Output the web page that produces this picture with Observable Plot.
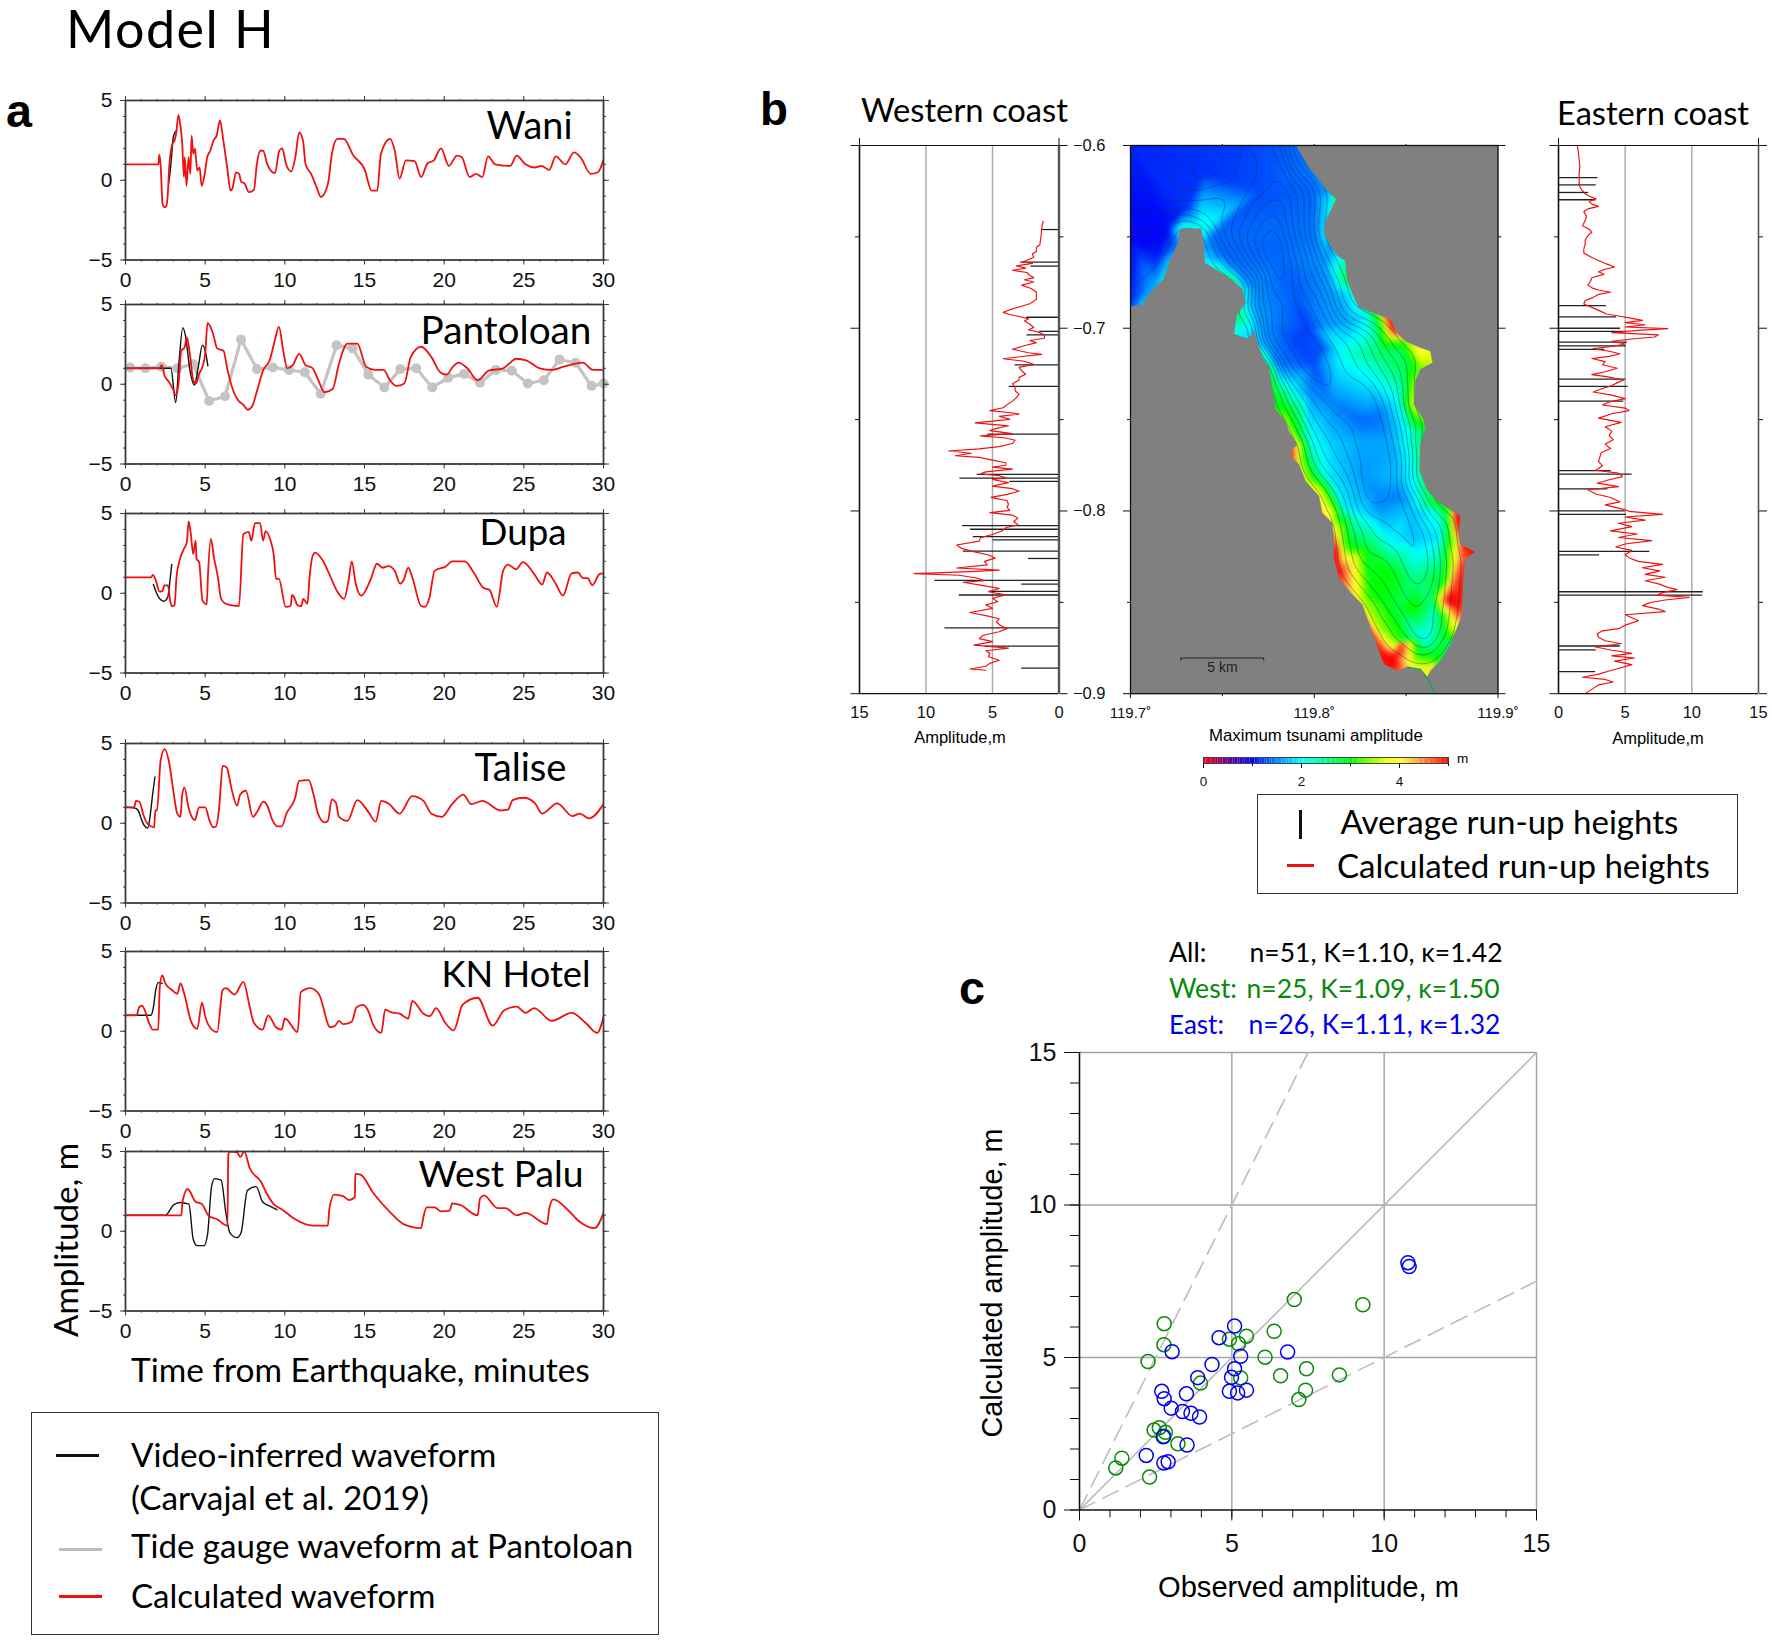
<!DOCTYPE html>
<html><head><meta charset="utf-8">
<script src="https://cdn.jsdelivr.net/npm/d3@7"></script>
<script src="https://cdn.jsdelivr.net/npm/@observablehq/plot@0.6"></script>
<style>
html,body{margin:0;padding:0;background:#fff}
#page{position:relative;width:1772px;height:1640px;overflow:hidden;background:#fff}
#page svg{position:absolute;background:transparent;overflow:visible}
.t{position:absolute;white-space:pre;line-height:1}
.box{position:absolute;border:1.5px solid #333;box-sizing:border-box}
.sw{position:absolute}
</style></head><body><div id="page"></div>
<script>
// ---------- panel a: waveforms [minutes, metres]
const panelNames=["Wani","Pantoloan","Dupa","Talise","KN Hotel","West Palu"];
const waniCalc=[[0,1],[2.07,1],[2.12,1.6],[2.2,1],[2.33,-1.5],[2.46,-1.7],[2.57,-1.6],[2.68,-.45],[2.74,.8],[2.95,2.3],[3.08,2.5],[3.19,3],[3.32,4.1],[3.45,3.4],[3.56,2.3],[3.67,.2],[3.72,1.45],[3.83,-.35],[3.96,1.45],[4.07,.4],[4.15,2.8],[4.25,1.65],[4.36,2],[4.5,.6],[4.65,.8],[4.78,-.35],[4.97,.4],[5.13,1.45],[5.32,1.85],[5.53,2.5],[5.72,2.8],[5.93,3.75],[6.14,2.5],[6.38,.8],[6.6,-.65],[6.7,-.55],[6.94,.5],[7.13,.4],[7.26,-.1],[7.47,-.2],[7.74,-.75],[8.06,-.6],[8.24,1],[8.46,1.85],[8.64,1.85],[8.9,1],[9.38,.45],[9.65,1.85],[9.84,2],[10.08,1],[10.4,.55],[10.66,1.45],[10.9,3],[11.14,2.5],[11.3,1],[11.65,.4],[12,-.45],[12.26,-1.05],[12.7,-.25],[12.97,1.75],[13.3,2.6],[13.7,2.6],[14.3,1.55],[15,.7],[15.45,-.65],[15.8,-.65],[16.03,1.65],[16.6,2.6],[16.9,1.85],[17.2,.1],[17.6,1.25],[18.15,1.2],[18.55,.2],[18.95,1.05],[19.35,1.25],[19.8,2],[20.3,.9],[20.8,1.55],[21.1,1.45],[21.6,.2],[22,.4],[22.4,.2],[22.75,1.5],[23.2,1],[24.15,.9],[24.55,1.55],[25.1,1],[25.7,.8],[26.1,.9],[26.6,.65],[27,1.5],[27.6,1],[28.15,1.75],[28.55,1.45],[29.2,.4],[29.65,.5],[30,1.3]];
const waniVideo=[[2.7,-.2],[2.8,.5],[2.9,1.6],[3,2.7],[3.1,3],[3.2,3.1]];
const pantoCalc=[[0,1],[2.14,1],[2.27,1.2],[2.45,.55],[2.72,.15],[2.98,-.3],[3.17,-.7],[3.33,.05],[3.5,2.1],[3.7,2.3],[3.85,2.95],[4.04,1.9],[4.25,.25],[4.43,.05],[4.62,.65],[4.83,1.1],[5,1.9],[5.15,3.85],[5.5,3.15],[5.75,2.25],[6.15,2.1],[6.4,.9],[6.8,-.5],[7.07,-1],[7.4,-1.3],[7.68,-1.6],[7.94,-1.4],[8.26,-.4],[8.65,.9],[9.05,1.5],[9.37,2.75],[9.63,3.6],[9.9,2.1],[10.15,1],[10.5,1.2],[10.9,1.9],[11.3,1.2],[11.75,1],[12.1,.25],[12.5,-.5],[13,-.3],[13.4,1.3],[13.93,2.55],[14.55,2.55],[15.1,1.1],[15.65,.9],[16.2,.9],[16.6,.25],[17,-.1],[17.5,.05],[17.9,1.7],[18.55,2.35],[19.2,1.7],[19.75,.75],[20.15,.6],[20.55,1.1],[20.9,1.35],[21.45,1],[22.1,.25],[22.8,.85],[23.7,1],[24.2,1.4],[24.5,1.6],[25.15,1.5],[26,1],[26.75,.9],[27.5,1.1],[28.7,1.35],[29.35,.9],[30,.9]];
const pantoVideo=[[0,1],[2.85,1],[3.15,-1.15],[3.35,1.3],[3.6,3.55],[3.78,2.95],[4.04,.9],[4.33,-.05],[4.57,1.1],[4.83,2.45],[5,2.1],[5.17,1.15]];
const pantoGauge=[[.3,1.05],[1.25,1],[2.25,1.1],[3.25,1],[4.25,1.25],[5.25,-1.05],[6.25,-.75],[7.25,2.8],[8.25,.95],[9.25,1.05],[10.25,.9],[11.25,.75],[12.25,-.6],[13.25,2.45],[14.25,2.25],[15.25,.6],[16.25,-.2],[17.25,.95],[18.25,1],[19.25,-.2],[20.25,.4],[21.25,.65],[22.25,.1],[23.25,.9],[24.25,.85],[25.25,.05],[26.25,.25],[27.25,1.55],[28.25,1.35],[29.25,-.1],[30,.05]];
const dupaCalc=[[0,1],[1.6,1],[1.72,1.15],[1.87,.9],[2.14,.1],[2.32,.15],[2.45,.5],[2.66,.5],[2.8,-.45],[2.9,-.8],[3.08,-.75],[3.2,1],[3.38,2],[3.65,2.75],[3.85,3.2],[3.96,4.5],[4.1,3.7],[4.25,2.45],[4.4,3.3],[4.46,2.15],[4.62,1.95],[4.83,-.45],[5.1,-.7],[5.17,1],[5.36,3.4],[5.55,2.25],[5.8,1],[6,-.35],[6.4,-.7],[7.12,-.8],[7.4,3.7],[7.73,3.85],[7.9,3.3],[8.13,4.4],[8.45,4.4],[8.63,3.3],[8.8,3.9],[9.1,3.3],[9.3,2.45],[9.45,.9],[9.63,.9],[10.05,-.85],[10.37,-.8],[10.45,-.1],[10.58,-.25],[10.8,-.75],[11.05,-.8],[11.15,-.35],[11.42,-.65],[11.55,1],[11.75,2.35],[11.9,2.55],[12.35,2.1],[12.75,1.3],[13.27,.15],[13.72,-.35],[14,.8],[14.2,2],[14.45,.6],[14.8,-.15],[15.4,.9],[15.78,1.85],[16.13,1.6],[16.5,1.7],[16.9,1.4],[17.23,.6],[17.44,.8],[17.75,1.6],[18,1],[18.55,-.8],[18.8,-.85],[19.08,-.25],[19.4,1.4],[20.13,1.7],[20.5,2],[21.3,2],[21.85,1.3],[22.45,.35],[22.85,.2],[23.3,-.85],[23.7,1.4],[24,1.8],[24.5,1.5],[24.95,1.95],[25.65,1.2],[26.15,.55],[26.45,1.3],[27,.6],[27.45,-.15],[28,1.25],[28.4,1.3],[28.7,.95],[29,.95],[29.3,.5],[29.75,1.2],[30,1.25]];
const dupaVideo=[[1.75,.55],[2.05,-.2],[2.4,-.5],[2.65,-.25],[2.78,.7],[2.9,1.8]];
const taliseCalc=[[0,1],[.55,1],[.65,1.4],[.87,1.35],[1.13,.5],[1.4,-.05],[1.8,-.25],[1.87,.8],[1.98,.8],[2.2,3.9],[2.45,4.65],[2.72,3.9],[3,2.05],[3.25,.6],[3.45,.4],[3.55,1.7],[3.7,2.25],[3.95,1],[4.35,.2],[4.62,1],[5,1],[5.28,.15],[5.5,-.25],[5.68,-.2],[5.88,1],[6.1,3.6],[6.35,3.5],[6.68,2.05],[7,1.1],[7.2,1.8],[7.55,2.05],[8,.4],[8.25,.7],[8.65,1.35],[8.9,1.1],[9.2,.25],[9.55,-.2],[9.8,-.2],[10.1,.6],[10.65,1.6],[10.9,2.65],[11.5,2.7],[11.8,1.8],[12.08,.6],[12.5,.05],[12.7,.15],[12.95,1.5],[13.2,1.3],[13.4,.4],[13.93,.15],[14.55,1.45],[15.25,.7],[15.7,.1],[16.05,1.4],[16.55,1.2],[17.2,.6],[18,1.7],[18.7,1.4],[19.2,.6],[19.85,.4],[20.5,1.2],[21.2,1.8],[21.7,1.2],[22.4,1.4],[23.55,.8],[24,.85],[24.3,1.45],[25,1.6],[25.7,1.25],[26.15,.6],[27.1,1.25],[28.05,.45],[28.5,.6],[29.1,.3],[30,1.2]];
const taliseVideo=[[0,1],[.6,.95],[.8,.8],[1,.25],[1.15,-.1],[1.4,-.3],[1.55,.5],[1.7,1.8],[1.85,2.9]];
const knCalc=[[0,1],[.7,1],[.85,1.5],[1.03,1.6],[1.53,.4],[1.7,.1],[2.05,.1],[2.15,2.75],[2.3,3.5],[2.5,3],[2.9,2.6],[3.25,2.35],[3.45,3],[3.7,2.3],[4.1,.65],[4.5,.15],[4.8,1.8],[5,.95],[5.2,.4],[5.75,-.05],[6.1,2.6],[6.3,2.7],[6.85,2.3],[7.4,3.1],[7.8,1.5],[8.05,.55],[8.6,.1],[8.95,1],[9.45,.25],[9.8,.1],[10,.8],[10.8,-.05],[11,2.45],[11.6,2.7],[12.15,2.3],[12.85,.25],[13.15,.35],[13.4,.65],[13.65,.45],[14.2,.6],[14.5,1.5],[14.9,1.65],[15.2,1.35],[15.55,.4],[16.05,-.1],[16.3,1.35],[16.65,1.2],[17.2,1.1],[17.75,.8],[18,1.9],[18.7,1.1],[19.1,.95],[19.5,1.45],[20.05,.55],[20.6,.05],[21.15,1.65],[22.1,2.1],[23.05,.35],[23.75,1.3],[24.55,1.55],[25.1,1.15],[25.65,1.45],[26.75,.65],[28,1.15],[28.9,.5],[29.6,-.1],[30,.9]];
const knVideo=[[0,1],[1.6,1],[1.75,1.5],[1.9,2.6],[2.05,3.05],[2.3,3]];
const palmCalc=[[0,1],[3.5,1],[3.58,1.85],[3.9,2.65],[4.4,1.85],[4.8,1.7],[5.2,1],[5.75,.75],[6.4,.35],[6.45,4.8],[6.55,5],[7,4.95],[7.2,4.65],[7.45,5],[7.8,3.95],[8.5,3.1],[8.9,2.3],[9.3,1.7],[9.85,1.35],[10.65,.75],[11.75,.35],[12.7,.35],[12.8,1.45],[13.1,2.3],[13.65,2.2],[14.05,1.95],[14.4,2.15],[14.42,3.6],[14.75,3.55],[15.55,2.4],[16.65,1.15],[17.45,.45],[18.55,.2],[18.7,.9],[18.9,1.5],[19.4,1.5],[19.8,1.25],[20.35,1.3],[20.5,1.75],[21,1.65],[22.1,1],[22.25,2.05],[22.5,2.25],[23.35,1.45],[23.85,1.45],[24.55,1],[25.1,1.15],[26.45,.45],[26.6,1.45],[26.85,2],[27.8,1.3],[28.5,.6],[29.45,.2],[30,1.15]];
const palmVideo=[[0,1],[2.5,1],[3.02,1.65],[3.43,1.8],[3.98,1.7],[4.25,-.5],[4.5,-.9],[4.93,-.9],[5.15,-.2],[5.4,2.8],[5.6,3.3],[6,3.2],[6.3,1.15],[6.55,-.1],[7,-.4],[7.25,-.1],[7.65,2.55],[8.2,2.8],[8.6,1.85],[9,1.6],[9.5,1.35]];

// ---------- panel b: run-up along the coasts [latitude, metres]
const westObserved=[[-.646,1.25],[-.6638,2.88],[-.666,2.1],[-.694,2.43],[-.7017,1.45],[-.7036,2.4],[-.72,3.3],[-.7318,3.75],[-.758,5.35],[-.78,6.15],[-.782,7.45],[-.7838,3.7],[-.808,7.25],[-.81,6.65],[-.814,6.45],[-.8158,4.95],[-.822,7.2],[-.826,2.3],[-.838,9.33],[-.84,2.8],[-.844,5.2],[-.846,7.5],[-.864,8.58],[-.874,5.57],[-.886,2.8]];
const westCalc=[[-.6415,1.2],[-.6451,1.3],[-.6498,1.35],[-.6545,1.45],[-.6557,1.7],[-.6581,1.7],[-.6593,2],[-.6612,1.9],[-.6621,2.2],[-.6636,2.7],[-.6645,2],[-.6659,3.2],[-.6671,2.5],[-.6683,3.5],[-.6695,2.4],[-.6711,2.2],[-.6723,1.9],[-.6735,2.6],[-.6747,1.9],[-.6764,2.8],[-.6783,2.1],[-.6802,1.7],[-.6818,1.7],[-.6842,1.7],[-.6866,2.2],[-.6877,2.7],[-.6894,3.5],[-.6913,4.2],[-.6925,3.7],[-.6937,2.9],[-.6949,2.3],[-.696,2.6],[-.6977,2.2],[-.6996,1.9],[-.7008,2.3],[-.702,1.6],[-.7036,1.1],[-.7055,1.1],[-.7067,2.2],[-.7079,1.7],[-.7096,2.6],[-.7115,3.5],[-.7134,2.3],[-.7143,1.3],[-.7155,2.8],[-.7167,4.2],[-.7181,2.6],[-.7198,1.9],[-.7214,3],[-.7233,2.8],[-.7252,2.5],[-.7269,3],[-.7285,3],[-.7304,3.5],[-.7323,3.3],[-.7342,3.3],[-.7361,3],[-.738,3.2],[-.7399,3.5],[-.7418,3.9],[-.7435,4.2],[-.7451,5.2],[-.7461,3.8],[-.747,3],[-.7482,4.5],[-.7499,3.7],[-.7518,6.3],[-.7534,3.8],[-.7548,4.7],[-.756,5.2],[-.7577,3.5],[-.7589,5.9],[-.7601,4],[-.7613,3.3],[-.7631,3.5],[-.7648,4.5],[-.766,6],[-.7672,8.3],[-.7684,6.6],[-.7698,7.8],[-.7707,6],[-.7722,5],[-.7736,4],[-.775,4],[-.776,5],[-.7771,3.5],[-.7786,5.5],[-.7797,5.9],[-.7807,4.5],[-.7819,4],[-.7828,5],[-.7845,3.8],[-.7864,5],[-.7878,3.5],[-.7892,3],[-.7909,3.9],[-.7926,5.1],[-.7944,3.9],[-.7963,3.8],[-.798,3.9],[-.7997,3.7],[-.8009,5.2],[-.8023,3.5],[-.8039,3.1],[-.8058,3.4],[-.8075,3.1],[-.8092,4],[-.811,4.3],[-.8129,5],[-.8146,5.9],[-.8165,6],[-.8186,7.7],[-.8205,7.3],[-.822,6.6],[-.8241,5.3],[-.8258,4.8],[-.8276,5.6],[-.8295,5.4],[-.8312,7.7],[-.8324,4.5],[-.8331,6.2],[-.8343,10.9],[-.8352,7.5],[-.8367,6.2],[-.8381,5.6],[-.839,7.2],[-.8407,5.8],[-.8424,4.5],[-.8442,5.3],[-.8459,4],[-.8478,5],[-.8497,4.6],[-.8514,5.5],[-.8533,5],[-.8556,6.7],[-.8573,5.5],[-.859,4.5],[-.8608,4.7],[-.8627,4.4],[-.8644,3.9],[-.8661,4.5],[-.868,5.7],[-.8699,6],[-.8715,5],[-.8734,6.4],[-.8751,3.8],[-.8765,5.5],[-.8779,5.2],[-.8798,5.3],[-.8817,4.5],[-.8834,5.2],[-.885,5.5],[-.8865,6.7],[-.8872,5.5]];
const eastObserved=[[-.6176,2.96],[-.6216,2.83],[-.6257,2.26],[-.6297,2.83],[-.6876,3.59],[-.6938,4.35],[-.7,4.65],[-.7017,5.05],[-.7076,5.17],[-.7097,5.09],[-.7116,3.46],[-.7278,5.05],[-.7318,5.22],[-.7399,4.9],[-.7779,3.96],[-.7798,5.52],[-.7879,3.71],[-.8,5],[-.8019,5.1],[-.8221,6.85],[-.824,3.08],[-.8442,10.86],[-.8461,10.81],[-.8739,4.64],[-.876,2.83],[-.8879,2.78]];
const eastCalc=[[-.6,1.4],[-.6019,1.45],[-.6043,1.5],[-.6078,1.55],[-.6114,1.6],[-.615,1.55],[-.6185,1.55],[-.6216,1.55],[-.624,1.7],[-.6264,2],[-.628,2.4],[-.6292,2.8],[-.6306,2.3],[-.6321,2.5],[-.6333,3],[-.6347,2.2],[-.6363,1.9],[-.6387,2.1],[-.6411,2],[-.6439,1.8],[-.6458,2.3],[-.6475,2.5],[-.6494,2.2],[-.6518,2],[-.6542,2],[-.6565,1.9],[-.6589,1.9],[-.6613,2.5],[-.6629,3],[-.6648,3.6],[-.6665,4.2],[-.6677,3.5],[-.6691,3],[-.6705,3.4],[-.6724,2.5],[-.6743,2.4],[-.6762,2.2],[-.6779,2.5],[-.6791,3],[-.6803,3.9],[-.6815,3],[-.6834,2.5],[-.685,2],[-.6867,1.9],[-.6886,2.5],[-.6905,3.1],[-.6922,3.6],[-.6933,4.5],[-.6945,5.4],[-.6957,6.3],[-.6969,5],[-.6981,6.5],[-.6993,5],[-.7002,8.2],[-.7012,6],[-.7024,4],[-.7036,7.5],[-.7048,7.2],[-.7059,5.5],[-.7071,4],[-.7086,5],[-.71,4],[-.7112,2.6],[-.7126,3.8],[-.714,4.6],[-.7154,3.8],[-.7166,2.5],[-.7183,3.5],[-.72,3.3],[-.7219,4.4],[-.7238,3.5],[-.7254,2.5],[-.7266,3.7],[-.7283,4.9],[-.7295,4.5],[-.7314,4],[-.733,3.3],[-.7349,2.6],[-.7366,4],[-.7385,5],[-.7404,3.8],[-.742,3.3],[-.7437,5],[-.7451,5.3],[-.7468,4],[-.7492,3],[-.7515,4.7],[-.7539,3.5],[-.7563,4],[-.7587,3.8],[-.761,4.1],[-.7634,3.5],[-.7658,3.9],[-.7682,3.2],[-.7705,3.1],[-.7729,3],[-.7753,3.3],[-.7777,2.8],[-.7793,4.5],[-.7812,4.8],[-.7829,3.8],[-.7848,2.9],[-.7867,4.5],[-.7884,2.2],[-.7907,2.8],[-.7926,3.9],[-.795,4.6],[-.7967,3.5],[-.799,4.8],[-.8002,5.3],[-.8019,7.8],[-.8033,5],[-.805,6.5],[-.8067,4.5],[-.8086,5.5],[-.8109,3.9],[-.8126,5.9],[-.8145,4.5],[-.8162,7],[-.8181,5],[-.8197,4.3],[-.8216,5.5],[-.824,5],[-.8257,5.3],[-.8276,6],[-.8292,7.8],[-.8311,6.3],[-.8328,7.6],[-.8347,6.5],[-.8363,8],[-.8382,6.5],[-.8399,7.5],[-.8418,8.2],[-.843,8.9],[-.8447,7.8],[-.8461,7.4],[-.8473,9.8],[-.8487,8],[-.8501,6.9],[-.8518,6.3],[-.8537,7.5],[-.8551,8],[-.8568,5],[-.8584,5.5],[-.8601,6],[-.8625,5],[-.8644,4.5],[-.8656,3.3],[-.8672,2.9],[-.8691,3],[-.871,3.5],[-.8727,4.7],[-.8743,2.7],[-.8762,4],[-.8779,5.5],[-.8793,4],[-.8805,5.7],[-.8822,4.2],[-.8841,5.5],[-.8862,4.5],[-.8876,3.8],[-.8893,3],[-.891,1.8],[-.8922,3.5],[-.8936,4.1],[-.8952,3],[-.8971,2.6],[-.8986,2.3],[-.9,2]];

// ---------- panel b: map. Coasts [lon, lat]; samples [lon, lat, value]
const eastCoast=[[119.7902,-.6],[119.7934,-.6057],[119.7971,-.6121],[119.8016,-.6175],[119.807,-.6248],[119.8121,-.6294],[119.8089,-.6358],[119.8061,-.6412],[119.8056,-.6485],[119.8089,-.6549],[119.8125,-.66],[119.817,-.6631],[119.8179,-.6732],[119.8206,-.6805],[119.8243,-.6887],[119.8342,-.6924],[119.8415,-.6951],[119.8451,-.7024],[119.8496,-.707],[119.8578,-.7106],[119.8632,-.7125],[119.8645,-.7189],[119.8578,-.7225],[119.8551,-.7289],[119.8542,-.7417],[119.8596,-.7499],[119.8605,-.7544],[119.8578,-.7636],[119.8574,-.7781],[119.8614,-.7882],[119.8669,-.7946],[119.875,-.8],[119.8796,-.8028],[119.8787,-.8128],[119.8796,-.8183],[119.8877,-.8223],[119.8823,-.8265],[119.881,-.8383],[119.8805,-.8566],[119.8778,-.8639],[119.8741,-.873],[119.8687,-.8821],[119.8632,-.8876],[119.8614,-.8912],[119.866,-.9],[119.9,-.9],[119.9,-.6]];
const westCoast=[[119.866,-.9],[119.8614,-.8912],[119.8578,-.8867],[119.8505,-.8858],[119.845,-.8876],[119.8378,-.8839],[119.8351,-.8766],[119.8306,-.8639],[119.826,-.8511],[119.8197,-.8447],[119.8133,-.8365],[119.8106,-.8256],[119.8106,-.8146],[119.8097,-.8064],[119.8043,-.801],[119.8025,-.7918],[119.7952,-.7836],[119.7916,-.7745],[119.788,-.7709],[119.7871,-.7672],[119.7907,-.7636],[119.7861,-.7563],[119.7843,-.7508],[119.7789,-.7444],[119.7771,-.7325],[119.7753,-.7216],[119.7717,-.7159],[119.7671,-.7018],[119.7639,-.7058],[119.7562,-.7031],[119.7577,-.693],[119.7626,-.6858],[119.7608,-.6785],[119.7544,-.673],[119.7472,-.6684],[119.7403,-.6642],[119.7399,-.6547],[119.7385,-.6456],[119.7272,-.6456],[119.7254,-.6547],[119.7218,-.662],[119.7181,-.673],[119.7109,-.6803],[119.7063,-.6872],[119.7005,-.688],[119.7,-.688],[119.7,-.9]];
const river=[[119.8505,-.8855],[119.8578,-.8867],[119.8614,-.8912],[119.866,-.9]];
const ampSamples=[[119.7,-.6,1.1],[119.7,-.65,.95],[119.715,-.66,1.05],[119.7,-.685,1.1],[119.712,-.678,1.6],[119.7063,-.6872,1.8],[119.7181,-.673,1.9],[119.7218,-.662,1.7],[119.7254,-.6547,1.4],[119.7272,-.6456,2.1],[119.7385,-.6456,2.2],[119.7399,-.6547,1.6],[119.7403,-.6642,2],[119.7472,-.6684,2.3],[119.7544,-.673,2.7],[119.7608,-.6785,2],[119.7626,-.6858,1.9],[119.7577,-.693,2.6],[119.7562,-.7031,2],[119.7639,-.7058,1.9],[119.7671,-.7018,1.8],[119.7717,-.7159,2.4],[119.7753,-.7216,2.8],
[119.73,-.635,1.15],[119.72,-.645,1],[119.745,-.65,1.35],[119.75,-.66,1.35],[119.758,-.668,1.4],[119.768,-.68,1.5],[119.77,-.695,1.55],[119.775,-.71,1.5],[119.78,-.72,1.45],
[119.76,-.6,1.2],[119.785,-.6,1.3],[119.74,-.615,1.15],[119.77,-.625,1.25],[119.785,-.64,1.35],[119.78,-.66,1.35],[119.79,-.68,1.3],[119.797,-.7,1.2],[119.805,-.71,1.3],
[119.7902,-.6,1.35],[119.7971,-.6121,1.4],[119.807,-.6248,1.55],[119.8121,-.6294,2.6],[119.8089,-.6358,2],[119.8056,-.6485,1.9],[119.8089,-.6549,1.5],[119.8125,-.66,1.9],[119.817,-.6631,2.3],[119.8179,-.6732,2.7],[119.8206,-.6805,2],[119.8243,-.6887,2.1],
[119.8,-.625,1.35],[119.8,-.645,1.4],[119.805,-.665,1.5],[119.81,-.68,1.55],
[119.8161,-.7143,2.1],[119.8306,-.7271,2],[119.836,-.7125,2.6],[119.8397,-.7061,3.3],[119.8088,-.7052,1.9],[119.7997,-.7198,1.25],[119.7907,-.707,1.2],[119.8052,-.6979,1.5],[119.8179,-.696,1.6],[119.827,-.6924,1.9],
[119.8342,-.6924,2.9],[119.8415,-.6979,5],[119.8442,-.7015,5],[119.8496,-.707,3.3],[119.8578,-.7106,4.2],[119.8632,-.7125,3.8],[119.8645,-.7189,3.6],[119.8578,-.7225,3.3],[119.8524,-.7262,3.1],[119.8542,-.7417,3.7],[119.8596,-.7499,3.3],[119.8605,-.7544,2.9],[119.8578,-.7636,2.5],[119.8574,-.7781,2.4],[119.8614,-.7882,2.6],[119.8669,-.7946,3],[119.8741,-.7991,3.2],[119.8778,-.8018,5],
[119.8469,-.7125,2.6],[119.8487,-.7252,2.6],[119.8451,-.7398,2],[119.836,-.7471,1.4],[119.8269,-.7508,1.35],[119.8088,-.7398,1.45],[119.7979,-.7362,1.5],[119.787,-.7325,2],[119.7816,-.7362,2.7],
[119.8524,-.7581,2.1],[119.8415,-.7617,1.6],[119.8269,-.7617,1.6],[119.8088,-.7635,1.8],[119.7979,-.7617,2.1],[119.7907,-.7581,3],
[119.7789,-.7444,3],[119.7843,-.7508,3.4],[119.7871,-.7672,5],[119.7916,-.7745,3.8],[119.7952,-.7836,3.7],[119.8025,-.7891,3.8],[119.8088,-.8019,4],
[119.7997,-.7727,2.3],[119.8088,-.7818,1.9],[119.8269,-.78,1.55],[119.8451,-.78,1.7],[119.8524,-.7763,2],[119.856,-.7873,2.1],[119.8179,-.7992,1.9],[119.8342,-.7982,1.5],[119.8524,-.7982,1.7],[119.8669,-.8019,2.1],[119.8723,-.8019,2.8],
[119.8324,-.7891,1.5],[119.8469,-.7927,1.45],[119.8233,-.8018,2],[119.8124,-.8037,3],[119.8106,-.811,4],[119.8115,-.8201,5],[119.8133,-.8329,5],[119.817,-.842,4.5],[119.826,-.8511,3.6],
[119.8179,-.8201,3.1],[119.8288,-.8201,2.8],[119.8415,-.8164,2],[119.8542,-.8146,1.7],[119.8669,-.8146,1.9],[119.874,-.8155,3],[119.8776,-.8164,3.9],[119.8796,-.8256,4.5],[119.8877,-.8223,5],[119.8814,-.8183,5],[119.8776,-.8055,5],[119.8768,-.8018,5],
[119.8415,-.8347,3],[119.8542,-.8383,2.5],[119.8542,-.8529,3.1],[119.8632,-.8456,2.5],[119.8705,-.8383,2.9],[119.8741,-.8456,5],[119.8778,-.8529,5],[119.8759,-.8383,4.6],[119.8723,-.8493,5],[119.8687,-.8529,3.6],[119.8651,-.8548,2.3],
[119.8451,-.8548,2.8],[119.8306,-.8438,3],[119.836,-.8639,3.4],[119.8451,-.8712,3.2],[119.8596,-.8694,2],[119.8705,-.8694,2.8],[119.8778,-.8602,4.2],
[119.8469,-.873,5],[119.8442,-.8794,5],[119.8378,-.8785,5],[119.8433,-.8858,5],[119.8542,-.8821,3.5],[119.8669,-.8803,3],[119.8578,-.8858,3.7],[119.8632,-.8876,4.4],
[119.9,-.6,1],[119.9,-.9,1],[119.7,-.9,1],[119.866,-.9,3]];
const depthSamples=[[119.7,-.6,30],[119.725,-.6,40],[119.7408,-.6095,66],[119.738,-.6,50],[119.76,-.6,45],[119.7779,-.6,50],
[119.7,-.62,38],[119.7289,-.6233,50],[119.7598,-.6233,40],[119.7834,-.6233,60],[119.7985,-.6233,30],
[119.7,-.645,22],[119.715,-.645,24],[119.735,-.638,28],[119.75,-.6463,40],[119.778,-.6463,82],[119.79,-.6463,50],[119.798,-.6463,28],
[119.7,-.665,14],[119.712,-.665,8],[119.755,-.6652,25],[119.778,-.655,95],[119.7798,-.6652,90],[119.7998,-.6652,40],[119.81,-.6652,10],
[119.765,-.6862,40],[119.771,-.6862,55],[119.787,-.6862,75],[119.8034,-.6862,55],[119.815,-.6862,15],
[119.7743,-.705,62],[119.7907,-.705,78],[119.8107,-.705,60],[119.8252,-.705,45],[119.8397,-.705,15],
[119.7852,-.7218,60],[119.7998,-.7218,80],[119.8179,-.7218,60],[119.8343,-.7218,40],[119.847,-.7218,22],
[119.7925,-.7385,45],[119.8107,-.7385,70],[119.8288,-.7385,72],[119.8434,-.7385,40],
[119.7998,-.7553,42],[119.8179,-.7553,60],[119.8343,-.7553,72],[119.847,-.7553,40],
[119.8034,-.7721,35],[119.8197,-.7721,55],[119.832,-.7721,70],[119.8379,-.7721,72],[119.8506,-.7721,40],
[119.8161,-.7909,30],[119.8297,-.7909,70],[119.8434,-.7909,62],[119.8561,-.7909,30],
[119.8197,-.8098,28],[119.8343,-.8098,50],[119.8524,-.8098,60],[119.867,-.8098,28],
[119.8234,-.8287,28],[119.8297,-.821,42],[119.8397,-.8287,36],[119.8579,-.8287,58],[119.8706,-.8287,26],
[119.8379,-.8496,24],[119.8543,-.8496,42],[119.867,-.8496,30],
[119.8452,-.8664,18],[119.8596,-.8703,38],[119.8688,-.8664,25],[119.8579,-.879,15]];
const depthLevels=[6,14,22,30,38,46,54,62,70,78,86,94];
const scaleBar=[[119.7274,-.8815],[119.7274,-.8805],[119.7725,-.8805],[119.7725,-.8815]];
const ampStops=[0,.5,1,1.5,2,3,3.7,4,4.5,5];
const ampColors=["#ff0000","#6000a0","#0008f8","#0090ff","#00ffff","#00ff00","#f0ff00","#ffff40","#ff8040","#ff0000"];

// ---------- panel c: observed vs calculated
const westPairs=[[7.05,6.9],[9.3,6.73],[2.78,6.11],[2.77,5.42],[2.25,4.87],[4.92,5.6],[5.22,5.45],[5.48,5.7],[6.39,5.86],[6.09,5.01],[6.6,4.4],[7.45,4.63],[8.53,4.43],[7.42,3.93],[7.2,3.62],[5.29,4.33],[3.97,4.16],[2.45,2.62],[2.62,2.7],[2.82,2.55],[3.23,2.17],[1.39,1.7],[1.19,1.38],[2.3,1.08],[2.77,2.42]];
const eastPairs=[[10.78,8.11],[10.82,7.98],[5.09,6.03],[4.58,5.65],[3.04,5.19],[5.29,5.04],[6.83,5.18],[4.35,4.77],[5.09,4.63],[4.99,4.35],[3.88,4.34],[3.51,3.81],[2.7,3.89],[2.78,3.65],[3.01,3.34],[3.38,3.23],[3.66,3.17],[3.94,3.05],[4.92,3.89],[5.19,3.84],[5.48,3.93],[2.75,2.4],[3.53,2.13],[2.19,1.79],[2.77,1.54],[2.91,1.58]];
const ratioSolid=[[0,0],[15,15]];
const ratioUpper=[[0,0],[7.5,15]];
const ratioLower=[[0,0],[15,7.5]];
const statsAll=["All:","n=51, K=1.10, κ=1.42"];
const statsWest=["West:","n=25, K=1.09, κ=1.50"];
const statsEast=["East:","n=26, K=1.11, κ=1.32"];

// ---------- helpers
const page=document.getElementById("page");
const ctx=document.createElement("canvas").getContext("2d");
const LATO='Lato, "Open Sans", sans-serif', HELV='"Liberation Sans", Arial, sans-serif';
function fit(str,family,target,weight=""){ctx.font=`${weight} 100px ${family}`;return 100*target/ctx.measureText(str).width;}
function label(str,x,yc,{w,size,font=LATO,color="#000",weight="",rotate=false,anchor="start",lh=1,spacing=0}={}){
  const s=size||fit(str,font,w,weight);
  const d=document.createElement("div");d.className="t";d.textContent=str;
  d.style.cssText+=`left:${x}px;top:${yc}px;font-family:${font};font-size:${s}px;color:${color};font-weight:${weight||"normal"};line-height:${lh};letter-spacing:${spacing}px;`;
  d.style.transform=rotate?"translate(-50%,-50%) rotate(-90deg)":(anchor==="middle"?"translate(-50%,-50%)":"translateY(-50%)");
  page.appendChild(d);
}
function swatch(x1,x2,y1,y2,color){const d=document.createElement("div");d.className="sw";
  d.style.cssText=`left:${x1}px;top:${y1}px;width:${x2-x1}px;height:${y2-y1}px;background:${color}`;page.appendChild(d);}
function box(x1,y1,x2,y2){const d=document.createElement("div");d.className="box";
  d.style.cssText+=`left:${x1}px;top:${y1}px;width:${x2-x1}px;height:${y2-y1}px`;page.appendChild(d);}
function mount(frame,m,opts){
  const svg=Plot.plot({width:frame.x2-frame.x1+m.l+m.r,height:frame.y2-frame.y1+m.t+m.b,
    marginLeft:m.l,marginRight:m.r,marginTop:m.t,marginBottom:m.b,...opts});
  svg.style.left=(frame.x1-m.l)+"px";svg.style.top=(frame.y1-m.t)+"px";page.appendChild(svg);return svg;
}
const X=d=>d[0],Y=d=>d[1];

// ---------- panel a
const INK="#3c3c3c";
function wavePanel(name,frameY,nameW,nameRight,nameY,calc,video,gauge){
  const frame={x1:124.5,x2:602.5,y1:frameY,y2:frameY+159.5};
  const nameSize=fit(name,LATO,nameW);
  const fullT=d3.range(0,31),majT=d3.range(0,31,5),fullV=d3.range(-5,6),majV=[-5,0,5];
  mount(frame,{l:50,r:25,t:10,b:35},{
    x:{domain:[0,30]},y:{domain:[-5,5]},
    style:{fontFamily:HELV,fontSize:"21px",color:"#111"},
    marks:[
      ...(gauge?[Plot.line(gauge,{x:X,y:Y,stroke:"#c4c4c4",strokeWidth:3.2}),Plot.dot(gauge,{x:X,y:Y,r:5,fill:"#c4c4c4"})]:[]),
      Plot.line(video,{x:X,y:Y,stroke:"#111",strokeWidth:1.4,curve:"monotone-x"}),
      Plot.line(calc,{x:X,y:Y,stroke:"#f01010",strokeWidth:1.8,curve:"monotone-x",clip:"frame"}),
      Plot.frame({stroke:INK,strokeWidth:1.8}),
      Plot.axisX({anchor:"top",ticks:fullT,tickSize:2,tickFormat:()=>"",label:null,stroke:INK}),
      Plot.axisX({anchor:"top",ticks:majT,tickSize:5,tickFormat:()=>"",label:null,stroke:INK}),
      Plot.axisX({anchor:"bottom",ticks:fullT,tickSize:2,tickFormat:()=>"",label:null,stroke:INK}),
      Plot.axisX({anchor:"bottom",ticks:majT,tickSize:5,tickPadding:7,tickFormat:"d",label:null,stroke:INK}),
      Plot.axisY({anchor:"left",ticks:fullV,tickSize:2,tickFormat:()=>"",label:null,stroke:INK}),
      Plot.axisY({anchor:"left",ticks:majV,tickSize:5,tickPadding:8,tickFormat:"d",label:null,stroke:INK}),
      Plot.axisY({anchor:"right",ticks:fullV,tickSize:2,tickFormat:()=>"",label:null,stroke:INK}),
      Plot.axisY({anchor:"right",ticks:majV,tickSize:5,tickFormat:()=>"",label:null,stroke:INK}),
      Plot.text([name],{text:d=>d,frameAnchor:"top-right",dx:-nameRight,dy:nameY,textAnchor:"end",lineAnchor:"middle",fontFamily:LATO,fontSize:nameSize,fill:"#000"})
    ]});
}
wavePanel(panelNames[0],99.5,86,31,26,waniCalc,waniVideo);
wavePanel(panelNames[1],304,171,12,27,pantoCalc,pantoVideo,pantoGauge);
wavePanel(panelNames[2],513,87,37,20,dupaCalc,dupaVideo);
wavePanel(panelNames[3],742.5,92,37,25.5,taliseCalc,taliseVideo);
wavePanel(panelNames[4],951,149,13,23.5,knCalc,knVideo);
wavePanel(panelNames[5],1150.5,165,20,23.5,palmCalc,palmVideo);

label("Model H",66,28,{size:52,spacing:1.5,lh:.9});
label("a",6,111,{w:26,font:HELV,weight:"bold"});
label("b",760,110,{w:28,font:HELV,weight:"bold"});
label("c",959,988,{w:26,font:HELV,weight:"bold"});
label("Amplitude, m",66,1240,{w:194,rotate:true});
label("Time from Earthquake, minutes",131,1370,{w:459});

box(31,1412,659,1635);
swatch(55.5,98.5,1454,1457,"#111");
swatch(58.5,101.5,1548,1550.5,"#bdbdbd");
swatch(58.5,101.5,1595,1597.5,"#f01010");
label("Video-inferred waveform",131,1455,{w:366});
label("(Carvajal et al. 2019)",131,1498,{w:298});
label("Tide gauge waveform at Pantoloan",131,1546,{w:503});
label("Calculated waveform",131,1595,{w:305});

// ---------- panel b: coast profiles
const latMajor=[-.6,-.7,-.8,-.9],latMinor=[-.65,-.75,-.85];
const latFmt=d=>"−"+(-d).toFixed(1);
function coastPanel(frame,dom,obs,calc,m,labelSide){
  const eastward=dom[0]===0;
  mount(frame,m,{
    x:{domain:dom},y:{domain:[-.9,-.6]},
    style:{fontFamily:HELV,fontSize:"16.5px",color:"#111"},
    marks:[
      Plot.ruleX([5,10],{stroke:"#a8a8a8",strokeWidth:1.4}),
      Plot.ruleY(obs,{y:X,x1:()=>0,x2:Y,stroke:"#222",strokeWidth:1.3}),
      Plot.line(calc,{x:Y,y:X,stroke:"#f01010",strokeWidth:1.15}),
      Plot.ruleY([-.6,-.9],{stroke:"#111",strokeWidth:1.2}),
      Plot.ruleX([15],{stroke:eastward?"#555":"#111",strokeWidth:1.6}),
      Plot.ruleX([0],{stroke:eastward?"#111":"#555",strokeWidth:eastward?1.6:2.4}),
      Plot.axisX({anchor:"top",ticks:[0,15],tickSize:8,tickFormat:()=>"",label:null,stroke:"#111"}),
      Plot.axisX({anchor:"bottom",ticks:[0,5,10,15],tickSize:0,tickPadding:13,tickFormat:"d",label:null}),
      Plot.axisY({anchor:"left",ticks:latMajor,tickSize:8.5,tickFormat:()=>"",label:null,stroke:"#111"}),
      Plot.axisY({anchor:"left",ticks:latMinor,tickSize:4,tickFormat:()=>"",label:null,stroke:"#111"}),
      Plot.axisY({anchor:"right",ticks:latMajor,tickSize:8,tickPadding:6,tickFormat:labelSide?latFmt:()=>"",label:null,stroke:"#111"}),
      Plot.axisY({anchor:"right",ticks:latMinor,tickSize:4,tickFormat:()=>"",label:null,stroke:"#111"})
    ]});
}
coastPanel({x1:858.5,x2:1058,y1:144.6,y2:692.8},[15,0],westObserved,westCalc,{l:14,r:55,t:12,b:32},true);
coastPanel({x1:1557.5,x2:1757.5,y1:144.6,y2:692.8},[0,15],eastObserved,eastCalc,{l:10,r:14,t:12,b:32},false);
label("Western coast",861,110,{w:207});
label("Eastern coast",1557,112.5,{w:192});
label("Amplitude,m",960,737,{size:16.5,font:HELV,anchor:"middle"});
label("Amplitude,m",1658,738,{size:16.5,font:HELV,anchor:"middle"});

// ---------- panel b: map
const ampScale={type:"linear",domain:ampStops,range:ampColors,clamp:true};
const depthField=[...depthSamples,...eastCoast.map(p=>[p[0],p[1],0]),...westCoast.map(p=>[p[0],p[1],0])];
mount({x1:1130,x2:1497.5,y1:144.6,y2:692.8},{l:10,r:10,t:6,b:32},{
  x:{domain:[119.7,119.9]},y:{domain:[-.9,-.6]},color:ampScale,
  style:{fontFamily:HELV,fontSize:"15px",color:"#111"},
  marks:[
    Plot.raster(ampSamples,{x:X,y:Y,fill:d=>d[2],interpolate:"barycentric",pixelSize:1,blur:2}),
    Plot.contour(depthField,{x:X,y:Y,value:d=>d[2],interpolate:"barycentric",thresholds:depthLevels,blur:3,pixelSize:2,stroke:"#06325a",strokeOpacity:.6,strokeWidth:.7,fill:"none"}),
    Plot.line(eastCoast,{x:X,y:Y,fill:"#808080",stroke:"#808080",strokeWidth:.5}),
    Plot.line(westCoast,{x:X,y:Y,fill:"#808080",stroke:"#808080",strokeWidth:.5}),
    Plot.line(river,{x:X,y:Y,stroke:"#10a060",strokeWidth:1.3}),
    Plot.line(scaleBar,{x:X,y:Y,stroke:"#222",strokeWidth:1.1}),
    Plot.text(["5 km"],{x:()=>119.75,y:()=>-.8855,text:d=>d,fontSize:14,fontFamily:HELV,fill:"#222"}),
    Plot.frame({stroke:"#111",strokeWidth:1.3}),
    Plot.axisX({anchor:"top",ticks:[119.75,119.8,119.85],tickSize:2,tickFormat:()=>"",label:null,stroke:"#111"}),
    Plot.axisX({anchor:"bottom",ticks:[119.75,119.85],tickSize:3,tickFormat:()=>"",label:null,stroke:"#111"}),
    Plot.axisX({anchor:"bottom",ticks:[119.7,119.8,119.9],tickSize:5,tickPadding:9,tickFormat:d=>d.toFixed(1)+"˚",label:null,stroke:"#111"}),
    Plot.axisY({anchor:"left",ticks:latMajor,tickSize:7,tickFormat:()=>"",label:null,stroke:"#111"}),
    Plot.axisY({anchor:"left",ticks:latMinor,tickSize:3,tickFormat:()=>"",label:null,stroke:"#111"}),
    Plot.axisY({anchor:"right",ticks:latMajor,tickSize:7,tickFormat:()=>"",label:null,stroke:"#111"}),
    Plot.axisY({anchor:"right",ticks:latMinor,tickSize:3,tickFormat:()=>"",label:null,stroke:"#111"})
  ]});
label("Maximum tsunami amplitude",1209,736,{w:214,font:HELV});

// colour bar
const barCells=d3.range(0,5,.05);
mount({x1:1203,x2:1448,y1:757,y2:763},{l:8,r:8,t:2,b:30},{
  x:{domain:[0,5]},y:{domain:[0,1],axis:null},color:ampScale,
  style:{fontFamily:HELV,fontSize:"13.5px",color:"#111"},
  marks:[
    Plot.rect(barCells,{x1:d=>d,x2:d=>d+.05,y1:()=>0,y2:()=>1,fill:d=>d}),
    Plot.frame({stroke:"#444",strokeWidth:1}),
    Plot.axisX({anchor:"bottom",ticks:[1,3,5],tickSize:3,tickFormat:()=>"",label:null,stroke:"#111"}),
    Plot.axisX({anchor:"bottom",ticks:[0,2,4],tickSize:5,tickPadding:8,tickFormat:"d",label:null,stroke:"#111"})
  ]});
label("m",1457,759,{size:13.5,font:HELV});

box(1257,794,1738,894);
swatch(1299,1302,810,839,"#111");
swatch(1287,1314,864,866.5,"#f01010");
label("Average run-up heights",1340.5,822,{w:338});
label("Calculated run-up heights",1337,866,{w:373});

// ---------- panel c
const GRID="#a4a4a4";
mount({x1:1078.5,x2:1535.5,y1:1052,y2:1509.5},{l:60,r:20,t:6,b:60},{
  x:{domain:[0,15]},y:{domain:[0,15]},
  style:{fontFamily:HELV,fontSize:"25px",color:"#111"},
  marks:[
    Plot.ruleX([5,10,15],{stroke:GRID,strokeWidth:1.4}),
    Plot.ruleY([5,10,15],{stroke:GRID,strokeWidth:1.4}),
    Plot.line(ratioSolid,{x:X,y:Y,stroke:"#b8b8b8",strokeWidth:1.6}),
    Plot.line(ratioUpper,{x:X,y:Y,stroke:"#bcbcbc",strokeWidth:1.6,strokeDasharray:"17,9"}),
    Plot.line(ratioLower,{x:X,y:Y,stroke:"#bcbcc8",strokeWidth:1.6,strokeDasharray:"17,9"}),
    Plot.dot(westPairs,{x:X,y:Y,r:7,stroke:"#0a8a0a",strokeWidth:1.5,fill:"none"}),
    Plot.dot(eastPairs,{x:X,y:Y,r:7,stroke:"#0000f0",strokeWidth:1.5,fill:"none"}),
    Plot.ruleX([0],{stroke:"#111",strokeWidth:1.6}),
    Plot.ruleY([0],{stroke:"#111",strokeWidth:1.6}),
    Plot.axisX({anchor:"bottom",ticks:d3.range(0,16),tickSize:8,tickFormat:()=>"",label:null,stroke:"#111"}),
    Plot.axisX({anchor:"bottom",ticks:[0,5,10,15],tickSize:11,tickPadding:13,tickFormat:"d",label:null,stroke:"#111"}),
    Plot.axisY({anchor:"left",ticks:d3.range(0,16),tickSize:9,tickFormat:()=>"",label:null,stroke:"#111"}),
    Plot.axisY({anchor:"left",ticks:[0,5,10,15],tickSize:15,tickPadding:8,tickFormat:"d",label:null,stroke:"#111"})
  ]});
label("Observed amplitude, m",1158,1588,{w:301,font:HELV});
label("Calculated amplitude, m",991.5,1282.5,{w:309,font:HELV,rotate:true});
label(statsAll[0],1169,952,{w:37.5});
label(statsAll[1],1249.5,952,{w:253});
label(statsWest[0],1169,988,{w:68,color:"#0a8a0a"});
label(statsWest[1],1246.5,988,{w:253,color:"#0a8a0a"});
label(statsEast[0],1169,1024,{w:55,color:"#0000f0"});
label(statsEast[1],1248.5,1024,{w:252,color:"#0000f0"});
</script></body></html>
